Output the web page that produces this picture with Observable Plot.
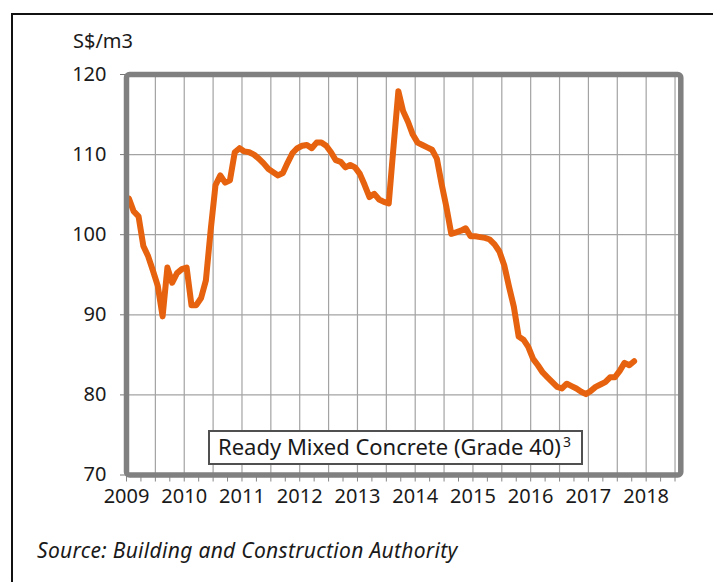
<!DOCTYPE html>
<html>
<head>
<meta charset="utf-8">
<script src="https://cdn.jsdelivr.net/npm/d3@7"></script>
<script src="https://cdn.jsdelivr.net/npm/@observablehq/plot@0.6"></script>
<style>
  html, body { margin: 0; padding: 0; background: #fff; overflow: hidden; }
  body { width: 713px; height: 582px; position: relative; font-family: "Noto Sans", sans-serif; color: #1a1a1a; }
  #outer { position: absolute; left: 11px; top: 13px; width: 900px; height: 800px; border-left: 2px solid #111; border-top: 2px solid #111; }
  #chart { position: absolute; left: 0; top: 0; }
  #unit { position: absolute; left: 73px; top: 31px; font-size: 20px; line-height: 1; }
  #legend { position: absolute; left: 208px; top: 430px; width: 375px; height: 35px; box-sizing: border-box;
            border: 2.5px solid #505050; background: #fff; font-size: 22px; line-height: 29px; padding-left: 8px; white-space: nowrap; }
  #legend sup { font-size: 14px; vertical-align: baseline; position: relative; top: -8px; margin-left: 2px; }
  #source { position: absolute; left: 37px; top: 540px; font-size: 21px; font-style: italic; line-height: 1; letter-spacing: 0.3px; }
</style>
</head>
<body>
<div id="outer"></div>
<div id="chart"></div>
<div id="unit">S$/m3</div>
<div id="legend">Ready Mixed Concrete (Grade 40)<sup>3</sup></div>
<div id="source">Source: Building and Construction Authority</div>
<script>
// Monthly price, S$/m3, starting Jan 2009
const startYear = 2009;
const prices = [
  104.5, 102.9, 102.3, 98.6, 97.3, 95.5, 93.6, 89.8, 95.9, 94.0, 95.2, 95.7,
  95.9, 91.2, 91.2, 92.1, 94.3, 100.6, 106.2, 107.4, 106.5, 106.8, 110.3, 110.8,
  110.4, 110.3, 110.0, 109.5, 108.9, 108.2, 107.8, 107.4, 107.7, 109.0, 110.2, 110.8,
  111.1, 111.2, 110.8, 111.5, 111.5, 111.1, 110.3, 109.3, 109.1, 108.4, 108.7, 108.4,
  107.6, 106.2, 104.7, 105.1, 104.4, 104.1, 103.9, 111.0, 117.9, 115.4, 114.1, 112.5,
  111.5, 111.2, 110.9, 110.6, 109.5, 106.3, 103.4, 100.1, 100.3, 100.5, 100.8, 99.8,
  99.8, 99.7, 99.6, 99.4, 98.8, 97.9, 96.2, 93.5, 91.0, 87.3, 86.9, 86.0,
  84.5, 83.7, 82.8, 82.2, 81.6, 81.0, 80.8, 81.4, 81.1, 80.8, 80.4, 80.1,
  80.5, 81.0, 81.3, 81.6, 82.2, 82.2, 83.0, 84.0, 83.7, 84.2
];
const yearLabels = [2009, 2010, 2011, 2012, 2013, 2014, 2015, 2016, 2017, 2018];
const yTicks = [70, 80, 90, 100, 110, 120];
const yGrid = [80, 90, 100, 110];

const data = prices.map((v, i) => ({t: startYear + (i + 0.5) / 12, v}));
const halfYears = d3.range(startYear + 0.5, 2018.51, 0.5);
const quarters = d3.range(startYear, 2018.51, 0.25);

const chart = Plot.plot({
  width: 713,
  height: 520,
  marginTop: 74,
  marginBottom: 45.5,
  marginLeft: 126,
  marginRight: 32.7,
  style: {fontFamily: "Noto Sans", fontSize: "20px", color: "#1a1a1a", background: "transparent"},
  x: {domain: [2009, 2018.6]},
  y: {domain: [70, 120]},
  marks: [
    Plot.gridX(halfYears, {stroke: "#a3a3a3", strokeOpacity: 1, strokeWidth: 1.2}),
    Plot.gridY(yGrid, {stroke: "#a3a3a3", strokeOpacity: 1, strokeWidth: 1.2}),
    Plot.axisY(yTicks, {tickSize: 6, tickPadding: 14, label: null, fontSize: 20, stroke: "#777"}),
    Plot.axisX(quarters, {tickSize: 7, tickFormat: () => "", label: null, stroke: "#888"}),
    Plot.axisX(yearLabels, {tickSize: 0, tickPadding: 14, tickFormat: d => String(d), label: null, fontSize: 20}),
    Plot.line(data, {x: "t", y: "v", stroke: "#E6620E", strokeWidth: 6, strokeLinejoin: "round", strokeLinecap: "round"}),
    Plot.frame({stroke: "#808080", strokeWidth: 5.5, rx: 3})
  ]
});
document.getElementById("chart").appendChild(chart);
</script>
</body>
</html>
